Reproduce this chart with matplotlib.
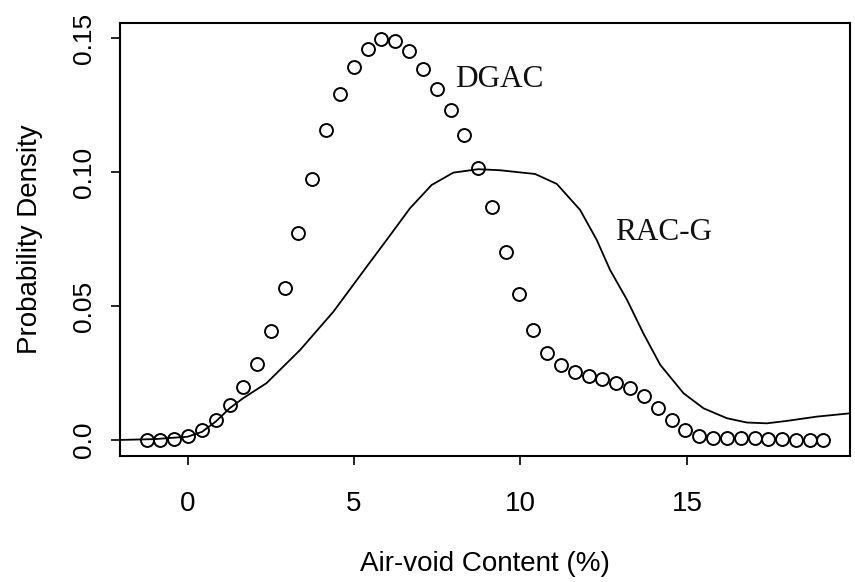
import matplotlib
matplotlib.use("Agg")
import matplotlib.pyplot as plt
from matplotlib import font_manager

# DGAC points (open circles)
dgac_x = [-1.23, -0.82, -0.40, 0.01, 0.43, 0.84, 1.26, 1.67, 2.09, 2.50,
          2.92, 3.33, 3.75, 4.16, 4.58, 4.99, 5.41, 5.82, 6.24, 6.65,
          7.07, 7.48, 7.90, 8.31, 8.73, 9.14, 9.56, 9.97, 10.39, 10.80,
          11.22, 11.63, 12.05, 12.46, 12.88, 13.29, 13.71, 14.12, 14.54, 14.95,
          15.37, 15.78, 16.20, 16.61, 17.03, 17.44, 17.86, 18.27, 18.69, 19.10]
dgac_y = [0.0000, 0.0000, 0.0003, 0.0015, 0.0037, 0.0075, 0.0130, 0.0198, 0.0284, 0.0405,
          0.0569, 0.0772, 0.0975, 0.1156, 0.1293, 0.1394, 0.1461, 0.1497, 0.1490, 0.1451,
          0.1385, 0.1312, 0.1232, 0.1138, 0.1017, 0.0869, 0.0703, 0.0544, 0.0411, 0.0324,
          0.0279, 0.0253, 0.0238, 0.0227, 0.0212, 0.0195, 0.0165, 0.0121, 0.0074, 0.0036,
          0.0016, 0.0007, 0.0007, 0.0007, 0.0007, 0.0004, 0.0004, 0.0001, 0.0001, 0.0001]

# RAC-G density (solid line)
racg_x = [-2.03, -1.0, 0.0, 0.43, 0.84, 1.26, 1.67, 2.37, 3.38, 4.38,
          5.38, 5.98, 6.68, 7.33, 7.98, 8.73, 9.39, 10.44, 11.09, 11.79,
          12.29, 12.69, 13.2, 13.69, 14.2, 14.9, 15.5, 16.2, 16.8, 17.4,
          18.0, 18.9, 19.95]
racg_y = [0.0000, 0.0003, 0.0012, 0.0030, 0.0068, 0.0118, 0.0156, 0.0212, 0.0336, 0.0479,
          0.0647, 0.0747, 0.0865, 0.0952, 0.0998, 0.1011, 0.1007, 0.0993, 0.0956, 0.0859,
          0.0747, 0.0635, 0.0523, 0.0398, 0.0280, 0.0174, 0.0118, 0.0081, 0.0065, 0.0062,
          0.0071, 0.0087, 0.0100]

xticks = [0, 5, 10, 15]
yticks = [0.0, 0.05, 0.10, 0.15]
ytick_labels = ["0.0", "0.05", "0.10", "0.15"]

plt.rcParams['font.family'] = ['Liberation Sans', 'DejaVu Sans']

# tick labels in the reference look condensed
names = set(f.name for f in font_manager.fontManager.ttflist)
narrow = 'Liberation Sans Narrow' if 'Liberation Sans Narrow' in names else 'Liberation Sans'

fig = plt.figure(figsize=(8.55, 5.82), dpi=100)
ax = fig.add_axes([0.1404, 0.2165, 0.9942 - 0.1404, 0.961 - 0.2165])

ax.plot(racg_x, racg_y, color='black', lw=1.3)
ax.plot(dgac_x, dgac_y, 'o', mfc='none', mec='black', ms=9.3, mew=1.4)

ax.text(8.03, 0.1317, "DGAC", family=['Liberation Serif'], fontsize=22.5, color='#111111')
ax.text(12.84, 0.0747, "RAC-G", family=['Liberation Serif'], fontsize=22.5, color='#111111')

ax.set_xlim(-2.03, 19.9)
ax.set_ylim(-0.006, 0.1558)
ax.set_xticks(xticks)
ax.set_yticks(yticks)
ax.set_yticklabels(ytick_labels, rotation=90, va='center')

for s in ax.spines.values():
    s.set_linewidth(1.5)
ax.tick_params(axis='both', direction='out', length=6.5, width=1.2, color='black')
ax.tick_params(axis='x', labelsize=20, pad=19)
ax.tick_params(axis='y', labelsize=19, pad=11)
for lab in ax.get_xticklabels() + ax.get_yticklabels():
    lab.set_family([narrow])

ax.set_xlabel("Air-void Content (%)", fontsize=20, labelpad=24)
ax.set_ylabel("Probability Density", fontsize=20, labelpad=21)

fig.savefig("out.png", dpi=100)
